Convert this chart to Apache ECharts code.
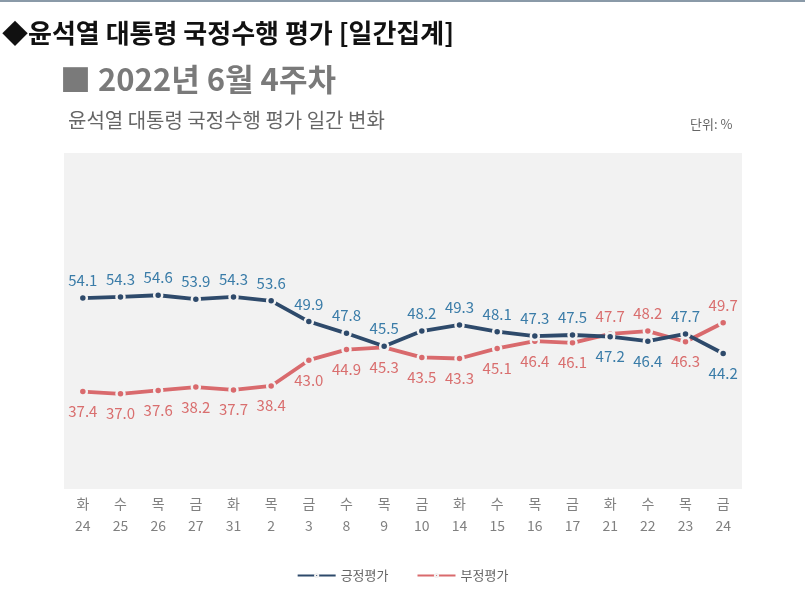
<!DOCTYPE html>
<html>
<head>
<meta charset="utf-8">
<script src="https://cdn.jsdelivr.net/npm/echarts@6/dist/echarts.min.js"></script>
<style>
html,body{margin:0;padding:0;background:#fff;}
#chart{width:805px;height:592px;}
</style>
</head>
<body>
<div id="chart"></div>
<script>
const days = ['화','수','목','금','화','목','금','수','목','금','화','수','목','금','화','수','목','금'];
const dates = ['24','25','26','27','31','2','3','8','9','10','14','15','16','17','21','22','23','24'];
const positive = [54.1,54.3,54.6,53.9,54.3,53.6,49.9,47.8,45.5,48.2,49.3,48.1,47.3,47.5,47.2,46.4,47.7,44.2];
const negative = [37.4,37.0,37.6,38.2,37.7,38.4,43.0,44.9,45.3,43.5,43.3,45.1,46.4,46.1,47.7,48.2,46.3,49.7];
const flipIdx = [14,15,17];

const FONT = '"Noto Sans CJK KR", "Noto Sans", sans-serif';
const categories = days.map((d,i)=>d+'\n'+dates[i]);

function build(vals, defPos, altPos) {
  return vals.map((v,i)=>{
    const pos = flipIdx.includes(i) ? altPos : defPos;
    return {value:v, label:{position:pos, distance: pos==='top'?5:7}};
  });
}

const chart = echarts.init(document.getElementById('chart'));
chart.setOption({
  backgroundColor:'#fff',
  animation:false,
  textStyle:{fontFamily:FONT},
  graphic:[
    {type:'rect', shape:{x:0,y:0,width:805,height:2}, style:{fill:'#8a9aa8'}},
    {type:'text', left:2, top:20, style:{text:'◆윤석열 대통령 국정수행 평가 [일간집계]', font:'bold 26px '+FONT, fill:'#111'}},
    {type:'text', left:60, top:64, style:{text:'■ 2022년 6월 4주차', font:'bold 31px '+FONT, fill:'#7a7a7a'}},
    {type:'text', left:68, top:110, style:{text:'윤석열 대통령 국정수행 평가 일간 변화', font:'20px '+FONT, fill:'#666'}},
    {type:'text', left:690, top:118, style:{text:'단위: %', font:'13px '+FONT, fill:'#666'}}
  ],
  legend:{
    top:564, left:'center',
    itemWidth:38, itemHeight:4, itemGap:28,
    textStyle:{color:'#666', fontSize:13, fontFamily:FONT},
    data:['긍정평가','부정평가']
  },
  grid:{left:64, right:63, top:153, bottom:103, show:true, backgroundColor:'#f2f2f2', borderWidth:0},
  xAxis:{
    type:'category', data:categories, boundaryGap:true,
    axisLine:{show:false}, axisTick:{show:false},
    axisLabel:{color:'#808080', fontSize:14, lineHeight:22, margin:4, interval:0, fontFamily:FONT}
  },
  yAxis:{type:'value', min:20, max:80, show:false, splitLine:{show:false}},
  series:[
    {
      name:'긍정평가', type:'line', data:build(positive,'top','bottom'),
      symbol:'circle', symbolSize:8,
      lineStyle:{color:'#2e4a6b', width:3.8},
      itemStyle:{color:'#2e4a6b', borderColor:'#f2f2f2', borderWidth:2.5},
      label:{show:true, color:'#3a7ca8', fontSize:15, fontFamily:FONT, formatter:p=>p.value.toFixed(1)},
      z:3
    },
    {
      name:'부정평가', type:'line', data:build(negative,'bottom','top'),
      symbol:'circle', symbolSize:8,
      lineStyle:{color:'#d96a6d', width:3.8},
      itemStyle:{color:'#d96a6d', borderColor:'#f2f2f2', borderWidth:2.5},
      label:{show:true, color:'#d96e6e', fontSize:15, fontFamily:FONT, formatter:p=>p.value.toFixed(1)},
      z:2
    }
  ]
});
</script>
</body>
</html>
